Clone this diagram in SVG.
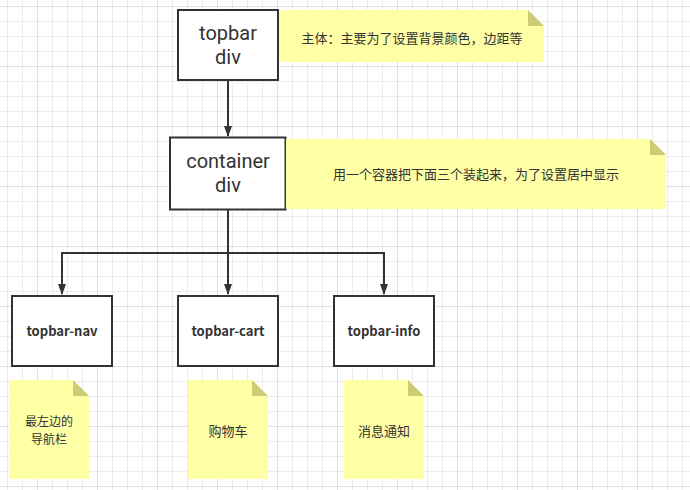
<svg xmlns="http://www.w3.org/2000/svg" width="690" height="490" viewBox="0 0 690 490">
<style>
.box{fill:#fff;stroke:#333;stroke-width:2}
.note{fill:#ffffa6}
.fold{fill:#cccc77}
.big{font-family:Roboto,"Liberation Sans",sans-serif;font-size:20px;fill:#333;text-anchor:middle}
.lbl{font-family:"Noto Sans CJK SC","Open Sans",sans-serif;font-size:13px;font-weight:bold;fill:#333;text-anchor:middle}
.txt{font-family:"Noto Sans CJK SC",sans-serif;font-size:13px;fill:#333;text-anchor:middle}
.sm{font-size:12px}
.edge{fill:none;stroke:#333;stroke-width:2}
</style>
<defs>
<pattern id="g" width="15" height="15" patternUnits="userSpaceOnUse" x="7" y="6">
<path d="M0.5 0V15M0 0.5H15" stroke="#ececec" stroke-width="1" fill="none"/>
</pattern>
<pattern id="G" width="60" height="60" patternUnits="userSpaceOnUse" x="37" y="6">
<path d="M0.5 0V60M0 0.5H60" stroke="#e0e0e0" stroke-width="1" fill="none"/>
</pattern>
<marker id="arr" markerWidth="11" markerHeight="10" refX="10" refY="5" orient="auto" markerUnits="userSpaceOnUse">
<path d="M0,1 L11,5 L0,9 Z" fill="#333"/>
</marker>
</defs>
<rect width="690" height="490" fill="#fff"/>
<rect width="690" height="490" fill="url(#g)"/>
<rect width="690" height="490" fill="url(#G)"/>

<g id="connectors">
<path class="edge" d="M228 80V136" marker-end="url(#arr)"/>
<path class="edge" d="M228 210V294" marker-end="url(#arr)"/>
<path class="edge" d="M228 253H62V294" marker-end="url(#arr)"/>
<path class="edge" d="M228 253H384V294" marker-end="url(#arr)"/>
</g>

<g id="topbar">
<rect class="box" x="178" y="10" width="100" height="70"/>
<text class="big" x="228" y="40">topbar</text>
<text class="big" x="228" y="64">div</text>
</g>
<g id="note-topbar">
<path class="note" d="M279 10H528L544 26V62H279Z"/>
<path class="fold" d="M528 10L544 26H528Z"/>
<text class="txt" x="412" y="43">主体：主要为了设置背景颜色，边距等</text>
</g>

<g id="container">
<rect class="box" x="170" y="137.5" width="115.5" height="72"/>
<text class="big" x="228" y="168">container</text>
<text class="big" x="228" y="192">div</text>
</g>
<g id="note-container">
<path class="note" d="M286 139H650L666 155V209H286Z"/>
<path class="fold" d="M650 139L666 155H650Z"/>
<text class="txt" x="476" y="179">用一个容器把下面三个装起来，为了设置居中显示</text>
</g>

<g id="topbar-nav">
<rect class="box" x="12" y="296" width="100" height="70"/>
<text class="lbl" x="62" y="336">topbar-nav</text>
</g>
<g id="topbar-cart">
<rect class="box" x="178" y="296" width="100" height="70"/>
<text class="lbl" x="228" y="336">topbar-cart</text>
</g>
<g id="topbar-info">
<rect class="box" x="334" y="296" width="100" height="70"/>
<text class="lbl" x="384" y="336">topbar-info</text>
</g>

<g id="note-nav">
<path class="note" d="M9 380H73L89 396V479H9Z"/>
<path class="fold" d="M73 380L89 396H73Z"/>
<text class="txt sm" x="49" y="426">最左边的</text>
<text class="txt sm" x="49" y="444">导航栏</text>
</g>
<g id="note-cart">
<path class="note" d="M188 380H252L268 396V479H188Z"/>
<path class="fold" d="M252 380L268 396H252Z"/>
<text class="txt" x="228" y="436">购物车</text>
</g>
<g id="note-info">
<path class="note" d="M344 380H408L424 396V479H344Z"/>
<path class="fold" d="M408 380L424 396H408Z"/>
<text class="txt" x="384" y="436">消息通知</text>
</g>
</svg>
